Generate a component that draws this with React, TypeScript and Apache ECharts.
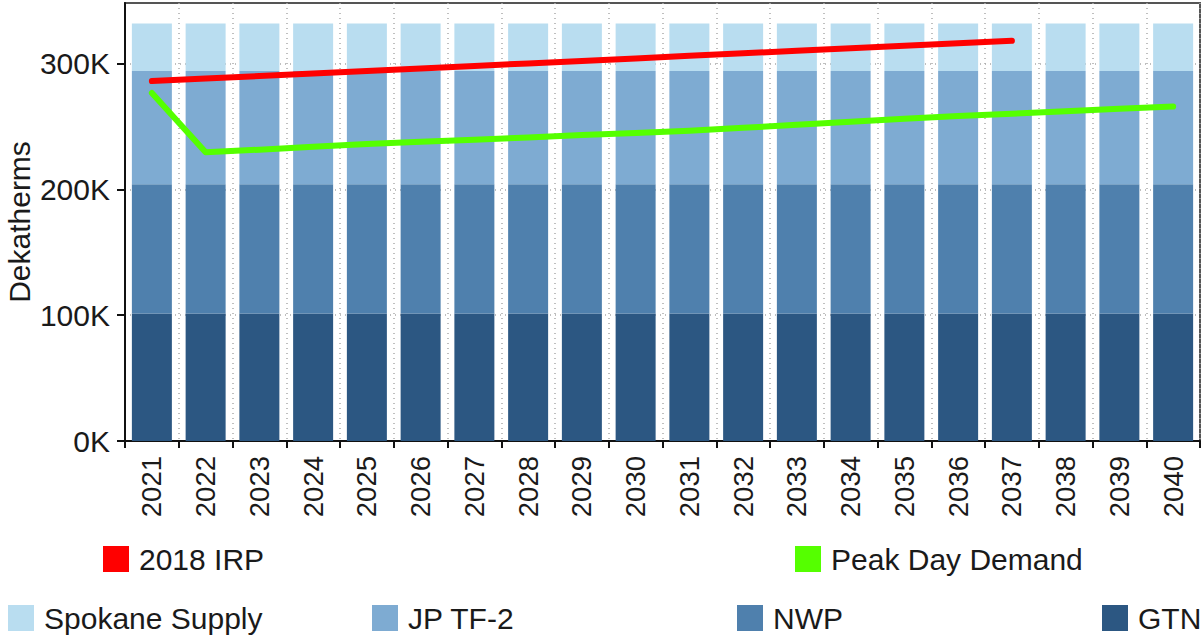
import React, { useEffect, useRef } from "react";
import * as echarts from "echarts";

const years = ["2021","2022","2023","2024","2025","2026","2027","2028","2029","2030","2031","2032","2033","2034","2035","2036","2037","2038","2039","2040"];
const yTicks = [0, 100000, 200000, 300000];

const gtn = [101400,101400,101400,101400,101400,101400,101400,101400,101400,101400,101400,101400,101400,101400,101400,101400,101400,101400,101400,101400];
const nwp = [102500,102500,102500,102500,102500,102500,102500,102500,102500,102500,102500,102500,102500,102500,102500,102500,102500,102500,102500,102500];
const jpTf2 = [90000,90000,90000,90000,90000,90000,90000,90000,90000,90000,90000,90000,90000,90000,90000,90000,90000,90000,90000,90000];
const spokane = [37900,37900,37900,37900,37900,37900,37900,37900,37900,37900,37900,37900,37900,37900,37900,37900,37900,37900,37900,37900];

const irp2018 = [286000,288000,290000,292000,294000,296000,298000,300000,302000,304000,306000,308000,310000,312000,314000,316000,318000];
const peakDay = [276500,229500,231500,233800,236000,237700,239300,241200,243200,244800,246500,248800,251200,253600,256000,258200,260000,262000,264000,265700];

const FONT = "'Liberation Sans', Arial, sans-serif";
const TXT = "#1a1a1a";

export default function App() {
  const ref = useRef<HTMLDivElement>(null);
  useEffect(() => {
    if (!ref.current) return;
    const chart = echarts.init(ref.current, undefined, { renderer: "svg" });
    const legendBase = {
      padding: 0,
      itemWidth: 26,
      itemHeight: 26,
      icon: "rect",
      selectedMode: false,
      textStyle: { fontSize: 30, color: TXT, fontFamily: FONT, padding: [0, 0, 0, 5] },
    };
    const barSeries = (name: string, data: number[], color: string) => ({
      name,
      type: "bar",
      stack: "supply",
      barWidth: 40,
      data,
      itemStyle: { color },
      emphasis: { disabled: true },
    });
    chart.setOption({
      animation: false,
      backgroundColor: "#ffffff",
      textStyle: { fontFamily: FONT },
      grid: {
        left: 125,
        right: 3,
        top: 3,
        bottom: 194,
        containLabel: false,
        outerBoundsMode: "none",
        show: true,
        borderColor: "#555",
        borderWidth: 2,
        backgroundColor: "transparent",
      },
      legend: [
        { ...legendBase, data: ["2018 IRP"], left: 103, top: 544 },
        { ...legendBase, data: ["Peak Day Demand"], left: 795, top: 544 },
        { ...legendBase, data: ["Spokane Supply"], left: 8, top: 603 },
        { ...legendBase, data: ["JP TF-2"], left: 372, top: 603 },
        { ...legendBase, data: ["NWP"], left: 737, top: 603 },
        { ...legendBase, data: ["GTN"], left: 1102, top: 603 },
      ],
      xAxis: {
        type: "category",
        data: years,
        boundaryGap: true,
        axisLine: { lineStyle: { color: "#111", width: 2 } },
        axisTick: { show: true, length: 7, lineStyle: { color: "#111", width: 2 } },
        axisLabel: { rotate: 90, fontSize: 27.5, color: TXT, margin: 15, fontFamily: FONT },
        splitLine: { show: true, lineStyle: { color: "#aaa", type: [1, 4], width: 1.5 } },
      },
      yAxis: {
        type: "value",
        min: 0,
        max: 348000,
        interval: 100000,
        name: "Dekatherms",
        nameLocation: "middle",
        nameRotate: 90,
        nameGap: 91,
        nameMoveOverlap: false,
        nameTextStyle: { fontSize: 30, lineHeight: 30, color: TXT, fontFamily: FONT },
        axisLine: { show: true, lineStyle: { color: "#111", width: 2 } },
        axisTick: { show: true, length: 8, lineStyle: { color: "#111", width: 2 }, customValues: yTicks },
        axisLabel: {
          fontSize: 30,
          color: TXT,
          margin: 15,
          fontFamily: FONT,
          customValues: yTicks,
          formatter: (v: number) => `${Math.round(v / 1000)}K`,
        },
        splitLine: { show: true, lineStyle: { color: "#aaa", type: [1, 4], width: 1.5 } },
      },
      series: [
        barSeries("GTN", gtn, "#2c5782"),
        barSeries("NWP", nwp, "#4f80ad"),
        barSeries("JP TF-2", jpTf2, "#7eabd2"),
        barSeries("Spokane Supply", spokane, "#b9ddf0"),
        {
          name: "2018 IRP",
          type: "line",
          data: years.map((_, i) => (i < irp2018.length ? irp2018[i] : null)),
          showSymbol: false,
          symbol: "none",
          itemStyle: { color: "#ff0000" },
          lineStyle: { color: "#ff0000", width: 6, cap: "round", join: "round" },
          emphasis: { disabled: true },
          z: 5,
        },
        {
          name: "Peak Day Demand",
          type: "line",
          data: peakDay,
          showSymbol: false,
          symbol: "none",
          itemStyle: { color: "#55ff00" },
          lineStyle: { color: "#55ff00", width: 6, cap: "round", join: "round" },
          emphasis: { disabled: true },
          z: 5,
        },
      ],
    });
    return () => chart.dispose();
  }, []);
  return (
    <div
      ref={ref}
      style={{ position: "fixed", left: 0, top: 0, width: 1203, height: 635, background: "#fff" }}
    />
  );
}
